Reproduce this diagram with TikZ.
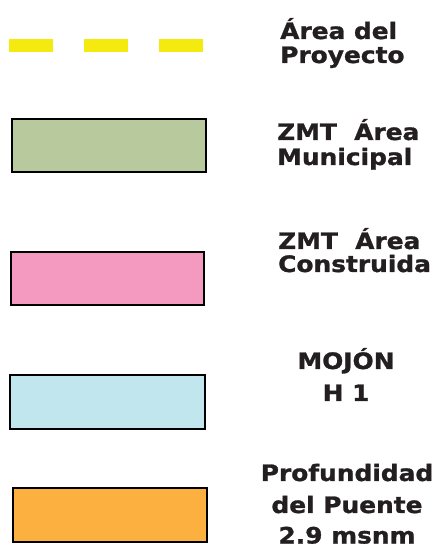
\documentclass[tikz,border=0pt]{standalone}
\usepackage{fontspec}
\newfontfamily\lblfont{DejaVu Sans Bold}[FakeStretch=1.1,FakeBold=1.2]
\definecolor{txt}{HTML}{231F20}
\definecolor{yel}{HTML}{F5EA0F}
\definecolor{grn}{HTML}{B8C99D}
\definecolor{pnk}{HTML}{F49AC1}
\definecolor{cyn}{HTML}{C2E6EE}
\definecolor{org}{HTML}{FBB040}
\begin{document}
\begin{tikzpicture}[x=1pt,y=1pt,
  swatch/.style={draw=black,line width=2.2pt},
  dashseg/.style={draw=yel,line width=13pt},
  lbl/.style={inner sep=0pt,text=txt,font=\lblfont\fontsize{22.6}{25}\selectfont},
  lw/.style={lbl,anchor=base west},
  lc/.style={lbl,anchor=base}]
\useasboundingbox (0,0) rectangle (443,545);
% dashed line
\coordinate (d1a) at (9,499.5); \coordinate (d1b) at (53,499.5);
\coordinate (d2a) at (84,499.5); \coordinate (d2b) at (128,499.5);
\coordinate (d3a) at (159,499.5); \coordinate (d3b) at (203,499.5);
\draw[dashseg] (d1a) -- (d1b);
\draw[dashseg] (d2a) -- (d2b);
\draw[dashseg] (d3a) -- (d3b);
\node[lw] (t1a) at (280,506) {Área del};
\node[lw] (t1b) at (280,482) {Proyecto};
% green
\filldraw[swatch,fill=grn] (12,373) rectangle (206,426);
\node[lw] (t2a) at (277,405) {ZMT\ \ Área};
\node[lw] (t2b) at (277,380) {Municipal};
% pink
\filldraw[swatch,fill=pnk] (11,240) rectangle (204,293);
\node[lw] (t3a) at (278,296) {ZMT\ \ Área};
\node[lw] (t3b) at (278,273) {Construida};
% cyan
\filldraw[swatch,fill=cyn] (10,116) rectangle (205,170);
\node[lc] (t4a) at (346,176) {MOJÓN};
\node[lc] (t4b) at (346,144) {H 1};
% orange
\filldraw[swatch,fill=org] (13,3) rectangle (207,57);
\node[lc] (t5a) at (347,64) {Profundidad};
\node[lc] (t5b) at (347,32) {del Puente};
\node[lc] (t5c) at (347,1.5) {2.9 msnm};
\end{tikzpicture}
\end{document}
